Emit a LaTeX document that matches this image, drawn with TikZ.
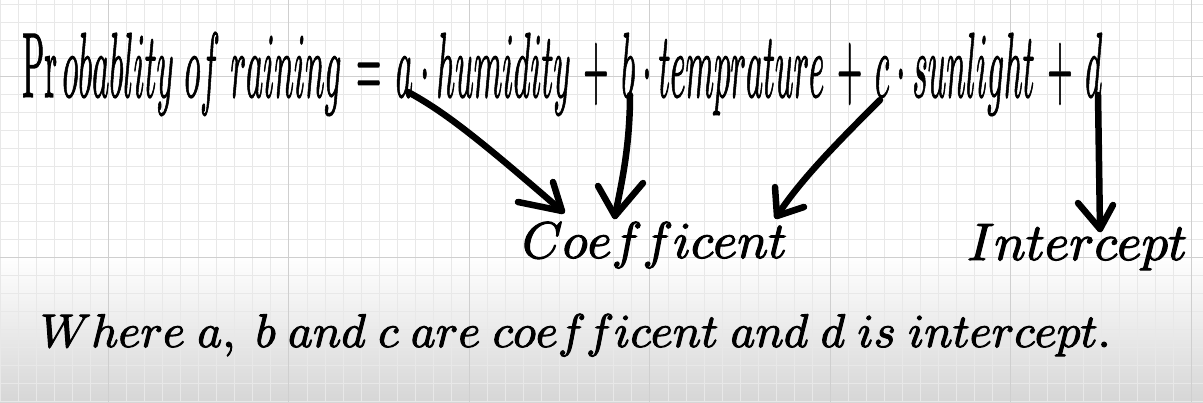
\documentclass[tikz,border=0pt]{standalone}
\usepackage{graphicx}
\newcommand\wsp{\hspace{2.6pt}}
\newcommand\opl{\mskip7mu\mathord{+}\mskip7mu}
\newcommand\oeq{\mskip8mu\mathord{=}\mskip8mu}
\newcommand\thk[2]{\special{pdf:literal direct #1 w 2 Tr}#2\special{pdf:literal direct 0 Tr}}
\tikzset{
  minorline/.style={draw=black!9, line width=0.7pt},
  majorline/.style={draw=black!19, line width=0.9pt},
  hand/.style={line width=6.5pt, line cap=round, line join=round, draw=black},
  lbl/.style={inner sep=0pt, anchor=base west},
}
\begin{document}
\begin{tikzpicture}[x=1pt,y=-1pt]
\useasboundingbox (0,0) rectangle (1203,402);
\fill[white] (0,0) rectangle (1203,402);
\shade[top color=white, bottom color=black!16] (0,255) rectangle (1203,402);
% grid
\foreach \i in {0,...,66} \draw[minorline] (\i*18.05,0) -- (\i*18.05,402);
\foreach \j in {0,...,22} \draw[minorline] (0,4.3+\j*18.05) -- (1203,4.3+\j*18.05);
\foreach \i in {0,...,6} \draw[majorline] (108.3+\i*180.5,0) -- (108.3+\i*180.5,402);
\foreach \j in {76.5,257} \draw[majorline] (0,\j) -- (1203,\j);
% texts
\node[lbl] (title) at (22,97) {\resizebox{1080pt}{64pt}{\thk{0.15}{$\Pr obablity\ of\ raining \oeq a\cdot humidity \opl b\cdot temprature \opl c\cdot sunlight \opl d$}}};
\node[lbl] (coef) at (522,258) {\resizebox{265pt}{!}{\thk{0.2}{$Coefficent$}}};
\node[lbl] (icpt) at (967,260) {\resizebox{220pt}{!}{\thk{0.2}{$Intercept$}}};
\node[lbl] (note) at (40,347) {\resizebox{1071pt}{!}{\thk{0.2}{$Where\wsp a,\wsp b\wsp and\wsp c\wsp are\wsp coefficent\wsp and\wsp d\wsp is\wsp intercept.$}}};
% arrow ends
\coordinate (sa) at (408,92);  \coordinate (ta) at (562,211);
\coordinate (sb) at (630,95);  \coordinate (tb) at (615,216);
\coordinate (sc) at (880,100); \coordinate (tc) at (777,216);
\coordinate (sd) at (1098,95); \coordinate (td) at (1100,229);
% arrows
\draw[hand] (sa) .. controls (445,112) and (480,140) .. (ta);
\draw[hand] (ta) ++(-44,-9) -- (ta) -- ++(-9,-29);
\draw[hand] (sb) .. controls (630,150) and (620,190) .. (tb);
\draw[hand] (tb) ++(-17,-30) -- (tb) -- ++(28,-33);
\draw[hand] (sc) .. controls (840,140) and (800,180) .. (tc);
\draw[hand] (tc) ++(-2,-29) -- (tc) -- ++(27,-9);
\draw[hand] (sd) -- (td);
\draw[hand] (td) ++(-22,-26) -- (td) -- ++(13,-24);
\end{tikzpicture}
\end{document}
